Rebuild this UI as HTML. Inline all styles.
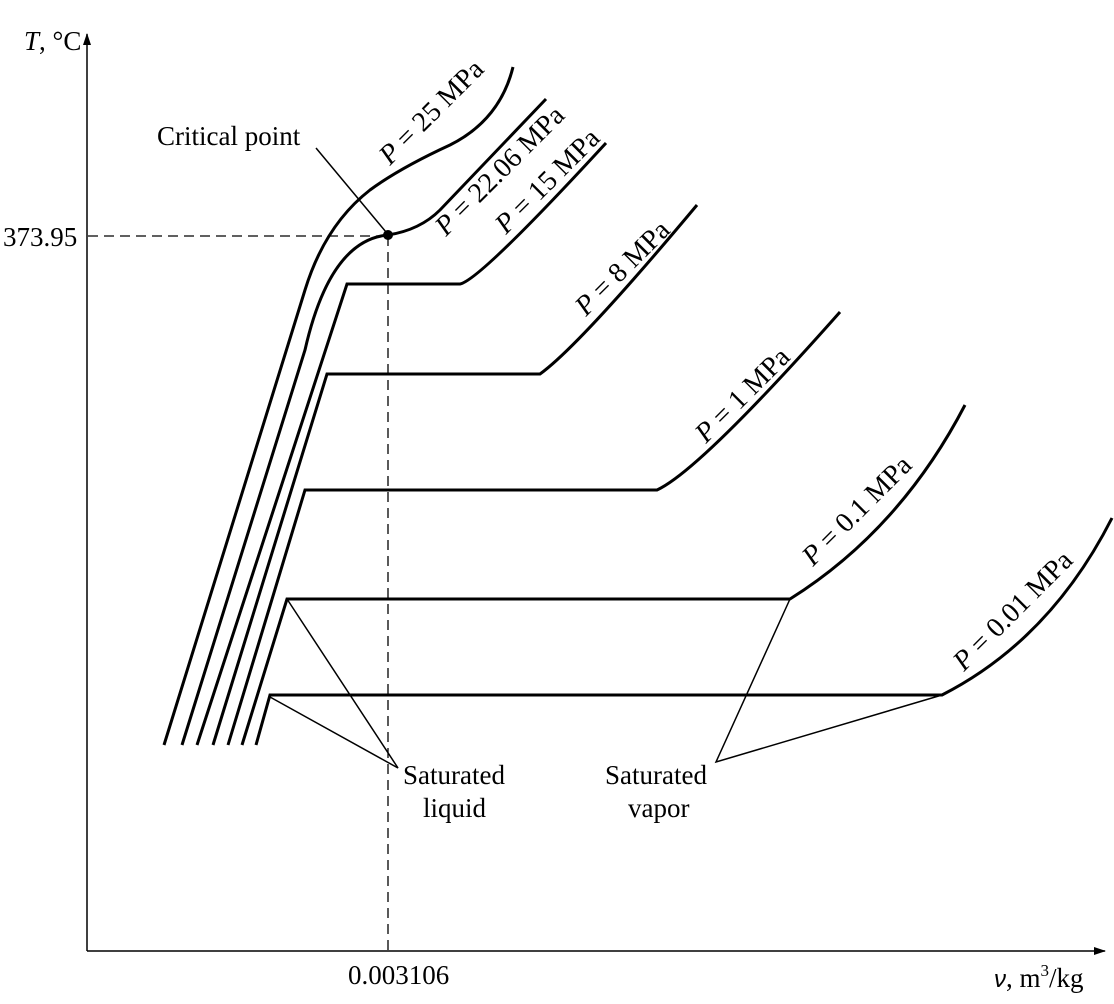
<!DOCTYPE html>
<html><head><style>body{margin:0;background:#fff}svg{display:block}</style></head><body>
<svg width="1114" height="1004" viewBox="0 0 1114 1004" xmlns="http://www.w3.org/2000/svg" font-family="Liberation Serif, serif" font-size="26">
<defs><marker id="a" markerWidth="12" markerHeight="12" refX="11" refY="6" orient="auto" markerUnits="userSpaceOnUse"><path d="M0,2 L12,6 L0,10 Z" fill="#000"/></marker></defs>
<g stroke="#000" stroke-width="1.5" fill="none">
<line x1="87" y1="951" x2="87" y2="34" marker-end="url(#a)"/>
<line x1="87" y1="951" x2="1105" y2="951" marker-end="url(#a)"/>
</g>
<g stroke="#000" stroke-width="1.3" stroke-dasharray="10,6" fill="none">
<line x1="88" y1="236" x2="388" y2="236"/>
<line x1="388" y1="236" x2="388" y2="951"/>
</g>
<g stroke="#000" stroke-width="3" fill="none" stroke-linejoin="miter">
<path d="M256,745 L270,695 L942,695 Q1050,640 1112,518"/>
<path d="M242,745 L287,599 L790,599 Q900,530 965,405"/>
<path d="M228,745 L305,490 L657,490 Q700,470 840,312"/>
<path d="M213,745 L327,374 L540,374 Q580,345 697,205"/>
<path d="M197,745 L347,284 L460,284 Q480,280 606,143"/>
<path d="M182,745 L305,350 Q330,240 388,235 Q420,230 440,210 L546,99"/>
<path d="M164,745 L305,290 Q325,225 370,190 Q400,168 450,145 Q500,120 513,67"/>
</g>
<circle cx="388" cy="235" r="5" fill="#000"/>
<g stroke="#000" stroke-width="1.5" fill="none">
<line x1="316" y1="148" x2="386" y2="232"/>
<polyline points="287,599 398,768 270,697"/>
<polyline points="790,599 716,762 942,695"/>
</g>
<g fill="#000">
<text x="157" y="145" font-size="27">Critical point</text>
<text x="24" y="50" font-size="27"><tspan font-style="italic">T</tspan>, °C</text>
<text x="3" y="246" font-size="27">373.95</text>
<text x="348" y="984" font-size="27">0.003106</text>
<text x="994" y="987" font-size="27"><tspan font-family="Liberation Sans, sans-serif" font-style="italic" font-size="24">ν</tspan>, m<tspan font-size="17" dy="-11">3</tspan><tspan dy="11">/kg</tspan></text>
<text x="403" y="784" font-size="27">Saturated</text>
<text x="423" y="817" font-size="27">liquid</text>
<text x="605" y="784" font-size="27">Saturated</text>
<text x="628" y="817" font-size="27">vapor</text>
<g font-size="28">
<text transform="translate(390,166) rotate(-45)"><tspan font-style="italic">P</tspan> = 25 MPa</text>
<text transform="translate(446,237) rotate(-45)"><tspan font-style="italic">P</tspan> = 22.06 MPa</text>
<text transform="translate(506,235) rotate(-45)"><tspan font-style="italic">P</tspan> = 15 MPa</text>
<text transform="translate(586,317) rotate(-45)"><tspan font-style="italic">P</tspan> = 8 MPa</text>
<text transform="translate(706,444) rotate(-45)"><tspan font-style="italic">P</tspan> = 1 MPa</text>
<text transform="translate(813,567) rotate(-45)"><tspan font-style="italic">P</tspan> = 0.1 MPa</text>
<text transform="translate(964,672) rotate(-45)"><tspan font-style="italic">P</tspan> = 0.01 MPa</text>
</g>
</g>
</svg>
</body></html>
